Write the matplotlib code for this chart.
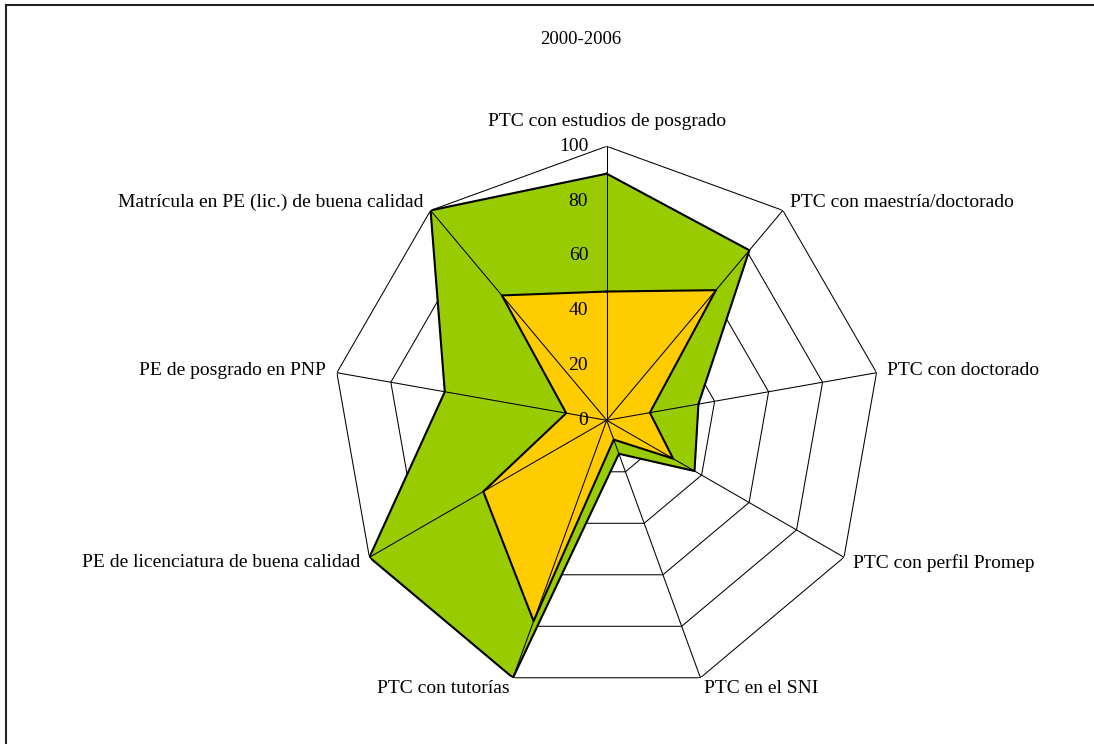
import matplotlib
matplotlib.use("Agg")
import matplotlib.pyplot as plt
import numpy as np
from matplotlib.lines import Line2D

# data
categorias = [
    "PTC con estudios de posgrado",
    "PTC con maestría/doctorado",
    "PTC con doctorado",
    "PTC con perfil Promep",
    "PTC en el SNI",
    "PTC con tutorías",
    "PE de licenciatura de buena calidad",
    "PE de posgrado en PNP",
    "Matrícula en PE (lic.) de buena calidad",
]
valores_2006 = [90, 81, 34, 37, 13, 100, 100, 60, 100]
valores_2000 = [47, 62, 16, 28, 7.5, 78, 52, 15, 59.5]
anillos = [20, 40, 60, 80, 100]
marcas = [0, 20, 40, 60, 80, 100]
titulo = "2000-2006"

VERDE = "#99CC00"
NARANJA = "#FFCC00"

plt.rcParams["font.family"] = ["Liberation Serif", "DejaVu Serif"]

W, H = 1094, 744
fig = plt.figure(figsize=(W / 100, H / 100), dpi=100, facecolor="white")

# center ~ (606.7, 420.3) px, radius 274 px
cx, cy, R = 606.7, 420.3, 274
ax = fig.add_axes([(cx - R) / W, (H - cy - R) / H, 2 * R / W, 2 * R / H],
                  projection="polar")
ax.set_theta_offset(np.pi / 2)
ax.set_theta_direction(-1)
ax.set_ylim(0, 100)
ax.grid(False)
ax.set_xticks([])
ax.set_yticks([])
ax.spines["polar"].set_visible(False)
ax.set_facecolor("none")

n = len(categorias)
ang = np.arange(n) * 2 * np.pi / n
ang_c = np.append(ang, ang[0])

# polygon rings
for r in anillos:
    ax.plot(ang_c, [r] * (n + 1), color="black", lw=0.75, zorder=1)

# series
for vals, col in [(valores_2006, VERDE), (valores_2000, NARANJA)]:
    v = np.append(vals, vals[0])
    ax.fill(ang_c, v, color=col, zorder=2)
    ax.plot(ang_c, v, color="black", lw=1.5, zorder=3)

# spokes
for a in ang:
    ax.plot([a, a], [0, 100], color="black", lw=0.75, zorder=4)

# tick labels on the top axis
for m in marcas:
    ax.annotate(str(m), xy=(0, m), xytext=(-18.5, 0), textcoords="offset pixels",
                ha="right", va="center", fontsize=14, zorder=5)

# category labels
for a, lab in zip(ang, categorias):
    s = np.sin(a)
    if abs(s) < 0.01:
        ax.text(a, 109, lab, ha="center", va="center", fontsize=14)
    else:
        ax.text(a, 104, lab, ha="left" if s > 0 else "right", va="center",
                fontsize=14)

fig.text(581 / W, 1 - 39 / H, titulo, ha="center", va="center", fontsize=13.5)

# outer frame (only top and left visible)
fig.add_artist(Line2D([6 / W, 6 / W], [0, 1 - 5 / H], transform=fig.transFigure,
                      color="#222222", lw=1.5))
fig.add_artist(Line2D([6 / W, 1], [1 - 5 / H, 1 - 5 / H], transform=fig.transFigure,
                      color="#222222", lw=1.5))

fig.savefig("out.png", dpi=100, facecolor="white")
